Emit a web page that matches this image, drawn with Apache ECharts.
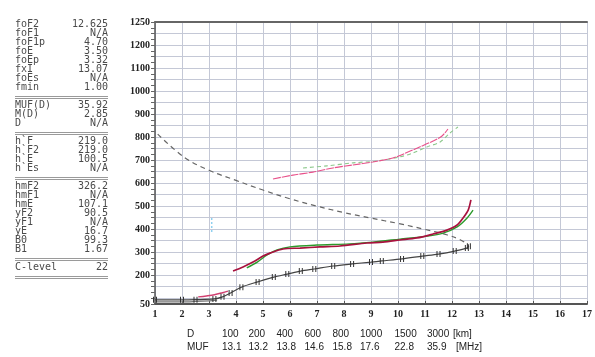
<!DOCTYPE html>
<html><head><meta charset="utf-8">
<script src="https://cdn.jsdelivr.net/npm/echarts@6/dist/echarts.min.js"></script>
<style>html,body{margin:0;padding:0;background:#fff}#c{width:595px;height:357px}</style>
</head><body><div id="c"></div>
<script>
// ---------- data ----------
const paramNames = ['foF2','foF1','foF1p','foE','foEp','fxI','foEs','fmin',
  'MUF(D)','M(D)','D',
  'h`F','h`F2','h`E','h`Es',
  'hmF2','hmF1','hmE','yF2','yF1','yE','B0','B1',
  'C-level'];
const paramValues = ['12.625','N/A','4.70','3.50','3.32','13.07','N/A','1.00',
  '35.92','2.85','N/A',
  '219.0','219.0','100.5','N/A',
  '326.2','N/A','107.1','90.5','N/A','16.7','99.3','1.67',
  '22'];
const groupSizes = [8,3,4,8,1];

const distanceKm = ['100','200','400','600','800','1000','1500','3000'];
const mufMHz = ['13.1','13.2','13.8','14.6','15.8','17.6','22.8','35.9'];

const xTickLabels = ['1','2','3','4','5','6','7','8','9','10','11','12','13','14','15','16','17'];
const yTickValues = [75,200,300,400,500,600,700,800,900,1000,1100,1200,1300];
const yTickLabels = ['50','200','300','400','500','600','700','800','900','1000','1100','1200','1250'];

// dashed curve (frequency MHz, height km)
const dashedCurve = [[1.1,813],[2.1,711],[3.0,656],[4.0,612],[5.0,570],[6.0,532],[7.0,500],
  [8.0,472],[9.0,448],[10.0,425],[11.0,399],[11.8,376],[12.3,354],[12.625,330]];
// true-height profile
const profile = [[1.0,93],[2.0,93],[2.5,94],[3.2,97],[3.5,106],[3.8,123],[4.2,148],[4.8,171],
  [5.4,192],[5.9,205],[6.4,218],[6.9,227],[7.6,240],[8.3,249],[9.0,257],[9.4,262],[10.15,271],
  [10.9,283],[11.5,292],[12.1,305],[12.55,318],[12.625,326]];
const lowTrace = [[1.0,84],[2.0,84],[2.5,86],[3.0,89],[3.3,92]];
const eTrace = [[2.6,106],[2.9,110],[3.2,115],[3.5,124],[3.7,131]];
const f2O = [[3.89,218],[4.26,236],[4.63,257],[5.0,283],[5.26,296],[5.74,314],[6.37,318],[7.11,323],
  [7.85,327],[8.85,340],[9.44,344],[10.07,353],[10.7,362],[11.3,379],[11.81,396],[12.19,418],
  [12.41,449],[12.6,483],[12.7,527]];
const f2X = [[4.4,232],[4.8,258],[5.15,288],[5.52,310],[6.0,323],[7.0,331],[8.2,336],[9.07,344],
  [10.07,357],[11.07,370],[11.67,383],[12.19,410],[12.56,449],[12.78,483]];
const hop2O = [[5.37,618],[6.11,635],[6.85,648],[7.59,666],[8.33,679],[9.07,692],[9.81,709],
  [10.19,726],[10.8,757],[11.3,783],[11.63,805],[11.85,835]];
const hop2X = [[6.48,666],[7.37,675],[8.33,688],[9.2,696],[10.07,714],[10.56,731],[11.07,757],
  [11.56,779],[11.93,818],[12.22,844]];
const blueSpeck = [[3.1,388],[3.1,410],[3.1,430],[3.1,453]];

// ---------- chart ----------
const chart = echarts.init(document.getElementById('c'), null, {renderer:'canvas'});
const yMin = 75, yMax = 1300;
const labelFont = {fontFamily:'Liberation Serif', fontWeight:'bold', fontSize:10, color:'#222'};

function lineSeries(data, color, width, type, extra) {
  return Object.assign({
    type:'line', data:data, showSymbol:false, symbol:'none', smooth:0.3,
    lineStyle:{color:color, width:width, type:type||'solid'}, z:3, animation:false
  }, extra||{});
}

// left panel
const graphics = [];
const txtStyle = {font:'10px "DejaVu Sans Mono"', fill:'#4a4a4a'};
let y = 24, idx = 0;
const step = 9, gap = 18;
groupSizes.forEach((n, g) => {
  for (let i = 0; i < n; i++) {
    graphics.push({type:'text', style:Object.assign({text:paramNames[idx], x:15, y:y,
      textAlign:'left', align:'left', textVerticalAlign:'middle', verticalAlign:'middle'}, txtStyle)});
    graphics.push({type:'text', style:Object.assign({text:paramValues[idx], x:108, y:y,
      textAlign:'right', align:'right', textVerticalAlign:'middle', verticalAlign:'middle'}, txtStyle)});
    idx++;
    if (i < n - 1) y += step;
  }
  const sy = Math.round((g === groupSizes.length - 1) ? y + 10.5 : y + gap / 2 + 1.5);
  [sy - 1.5, sy + 0.5].forEach(ly => graphics.push({type:'line', shape:{x1:15, y1:ly, x2:108, y2:ly},
    style:{stroke:'#9a9a9a', lineWidth:1}}));
  y += gap;
});

// bottom table
const colX = [222,248.5,276.5,304.5,332.5,360,394.5,427];
const tblFont = '10px "Liberation Sans"';
function tText(t, x, yy) {
  graphics.push({type:'text', style:{text:t, x:x, y:yy, font:tblFont, fill:'#222',
    textAlign:'left', align:'left', textVerticalAlign:'middle', verticalAlign:'middle'}});
}
tText('D', 187, 334); tText('MUF', 187, 347);
distanceKm.forEach((d,i) => tText(d, colX[i], 334));
mufMHz.forEach((m,i) => tText(m, colX[i], 347));
tText('[km]', 453, 334); tText('[MHz]', 456, 347);

const option = {
  animation:false,
  backgroundColor:'#fff',
  grid:{left:155, right:8, top:22, bottom:53, containLabel:false},
  xAxis:[{
    type:'value', min:1, max:17, interval:1,
    axisLine:{show:true, lineStyle:{color:'#555', width:2}},
    axisTick:{show:true, inside:true, length:3, lineStyle:{color:'#555'}},
    axisLabel:Object.assign({margin:5, formatter:v => xTickLabels[Math.round(v) - 1] || ''}, labelFont),
    splitLine:{show:true, lineStyle:{color:'#c4c8d6', width:1}}
  },{
    type:'value', position:'top', min:1, max:17,
    axisLine:{show:true, lineStyle:{color:'#666', width:2}},
    axisTick:{show:false}, axisLabel:{show:false}, splitLine:{show:false}
  }],
  yAxis:{
    type:'value', min:yMin, max:yMax, interval:25,
    axisLine:{show:true, lineStyle:{color:'#555', width:1.5}},
    axisTick:{show:true, length:4, lineStyle:{color:'#666'}},
    axisLabel:Object.assign({margin:5, showMinLabel:true, showMaxLabel:true,
      formatter:v => { const k = yTickValues.indexOf(v); return k >= 0 ? yTickLabels[k] : ''; }}, labelFont),
    splitLine:{show:true, lineStyle:{color:['rgba(0,0,0,0)','#c4c8d6'], width:1}}
  },
  graphic:graphics,
  series:[
    lineSeries(dashedCurve, '#666', 1.2, [5,4], {smooth:0.4}),
    lineSeries(lowTrace, '#777', 1.2),
    lineSeries(eTrace, '#d04070', 1.4),
    lineSeries(blueSpeck, '#8fd0f0', 1.5, [2,2], {smooth:false}),
    lineSeries(hop2X, '#8cc88c', 1.1, [4,3]),
    lineSeries(hop2O, '#e8508a', 1.1, [8,1]),
    lineSeries(f2X, '#2c9a2c', 1.4),
    lineSeries(f2O, '#a8123e', 1.7),
    {
      type:'line', data:profile, smooth:0.3, animation:false, z:4,
      lineStyle:{color:'#444', width:1.2},
      symbol:'path://M0,0h1v10h-1zM3,0h1v10h-1z', symbolSize:[4,6], showSymbol:true,
      itemStyle:{color:'#333'}
    }
  ]
};
chart.setOption(option);
</script>
</body></html>
